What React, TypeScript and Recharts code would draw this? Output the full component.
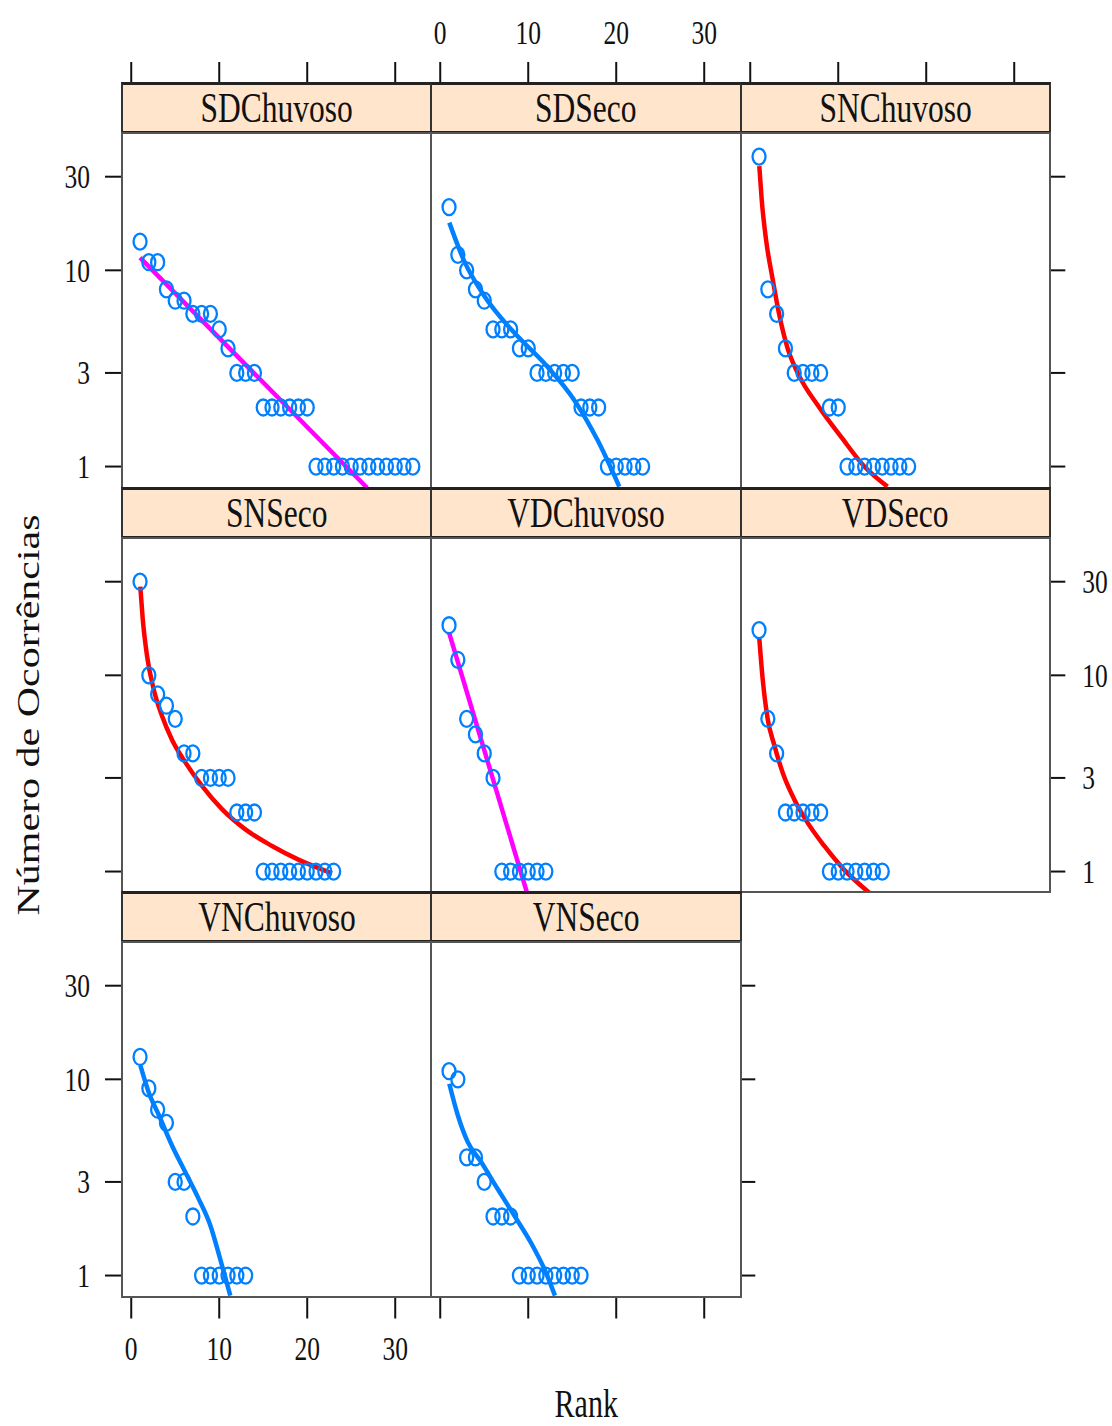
import React from "react";
import { ComposedChart, Line, Scatter, XAxis, YAxis } from "recharts";

// Counts per rank (rank = position + 1), one array per panel.
const sdChuvosoCounts = [14, 11, 11, 8, 7, 7, 6, 6, 6, 5, 4, 3, 3, 3, 2, 2, 2, 2, 2, 2, 1, 1, 1, 1, 1, 1, 1, 1, 1, 1, 1, 1];
const sdSecoCounts = [21, 12, 10, 8, 7, 5, 5, 5, 4, 4, 3, 3, 3, 3, 3, 2, 2, 2, 1, 1, 1, 1, 1];
const snChuvosoCounts = [38, 8, 6, 4, 3, 3, 3, 3, 2, 2, 1, 1, 1, 1, 1, 1, 1, 1];
const snSecoCounts = [30, 10, 8, 7, 6, 4, 4, 3, 3, 3, 3, 2, 2, 2, 1, 1, 1, 1, 1, 1, 1, 1, 1];
const vdChuvosoCounts = [18, 12, 6, 5, 4, 3, 1, 1, 1, 1, 1, 1];
const vdSecoCounts = [17, 6, 4, 2, 2, 2, 2, 2, 1, 1, 1, 1, 1, 1, 1];
const vnChuvosoCounts = [13, 9, 7, 6, 3, 3, 2, 1, 1, 1, 1, 1, 1];
const vnSecoCounts = [11, 10, 4, 4, 3, 2, 2, 2, 1, 1, 1, 1, 1, 1, 1, 1];

// Fitted curves (rank, count).
const sdChuvosoFitRank = [1, 26.8];
const sdChuvosoFitCount = [11.6, 0.78];
const sdSecoFitRank = [1.03, 2.74, 5.01, 8.42, 11.83, 15.24, 17.89, 20.35];
const sdSecoFitCount = [17.5, 11.1, 7.4, 4.8, 3.36, 2.18, 1.36, 0.79];
const snChuvosoFitRank = [1.03, 1.3, 1.79, 2.55, 3.31, 4.25, 5.39, 7.85, 10.31, 12.97, 15.6];
const snChuvosoFitCount = [34, 23, 14.4, 9.0, 5.9, 4.0, 3.0, 2.0, 1.42, 1.0, 0.79];
const snSecoFitRank = [1.03, 1.3, 1.79, 2.55, 3.5, 4.63, 6.15, 8.04, 10.31, 12.97, 16.0, 19.0, 22.8];
const snSecoFitCount = [28.3, 19.5, 12.6, 8.5, 6.2, 4.7, 3.6, 2.73, 2.08, 1.64, 1.35, 1.15, 0.98];
const vdChuvosoFitRank = [1, 9.86];
const vdChuvosoFitCount = [16.5, 0.78];
const vdSecoFitRank = [1.03, 1.41, 1.98, 2.74, 3.68, 5.01, 6.53, 8.42, 10.69, 13.53];
const vdSecoFitCount = [15.4, 9.6, 6.0, 4.4, 3.2, 2.33, 1.77, 1.35, 1.02, 0.78];
const vnChuvosoFitRank = [1.03, 1.98, 3.12, 4.63, 6.15, 7.66, 8.99, 10.12, 11.26];
const vnChuvosoFitCount = [11.8, 8.6, 6.6, 4.6, 3.36, 2.46, 1.8, 1.21, 0.79];
const vnSecoFitRank = [1.03, 1.98, 3.12, 4.63, 6.53, 8.42, 10.31, 11.83, 13.04];
const vnSecoFitCount = [9.5, 6.6, 4.8, 3.8, 2.76, 2.02, 1.47, 1.08, 0.79];

const X_TICKS = [0, 10, 20, 30];
const Y_TICKS = [1, 3, 10, 30];
const X_DOMAIN: [number, number] = [-1.05, 34.1];
const Y_DOMAIN: [number, number] = [0.782, 50.1];

const POINT_COLOR = "#0080ff";
const RED = "#ff0000";
const MAGENTA = "#ff00ff";

// Layout of the lattice grid (page px).
const COL_LEFT = [122, 431.3, 740.7];
const ROW_TOP = [83, 487.5, 892];
const PLOT_W = 309.3;
const STRIP_H = 50;
const PLOT_H = 354.5;
const PAD = 130;
const FONT = '"Liberation Serif", "Times New Roman", serif';
const SQUEEZE = 0.75; // the source text is horizontally condensed

type Side = "none" | "tick" | "label";

type PanelSpec = {
  name: string;
  col: number;
  row: number;
  counts: number[];
  fitRank: number[];
  fitCount: number[];
  fitColor: string;
  left: Side;
  right: Side;
  top: Side;
  bottom: Side;
};

const PANELS: PanelSpec[] = [
  { name: "SDChuvoso", col: 0, row: 0, counts: sdChuvosoCounts, fitRank: sdChuvosoFitRank, fitCount: sdChuvosoFitCount, fitColor: MAGENTA, left: "label", right: "none", top: "tick", bottom: "none" },
  { name: "SDSeco", col: 1, row: 0, counts: sdSecoCounts, fitRank: sdSecoFitRank, fitCount: sdSecoFitCount, fitColor: POINT_COLOR, left: "none", right: "none", top: "label", bottom: "none" },
  { name: "SNChuvoso", col: 2, row: 0, counts: snChuvosoCounts, fitRank: snChuvosoFitRank, fitCount: snChuvosoFitCount, fitColor: RED, left: "none", right: "tick", top: "tick", bottom: "none" },
  { name: "SNSeco", col: 0, row: 1, counts: snSecoCounts, fitRank: snSecoFitRank, fitCount: snSecoFitCount, fitColor: RED, left: "tick", right: "none", top: "none", bottom: "none" },
  { name: "VDChuvoso", col: 1, row: 1, counts: vdChuvosoCounts, fitRank: vdChuvosoFitRank, fitCount: vdChuvosoFitCount, fitColor: MAGENTA, left: "none", right: "none", top: "none", bottom: "none" },
  { name: "VDSeco", col: 2, row: 1, counts: vdSecoCounts, fitRank: vdSecoFitRank, fitCount: vdSecoFitCount, fitColor: RED, left: "none", right: "label", top: "none", bottom: "none" },
  { name: "VNChuvoso", col: 0, row: 2, counts: vnChuvosoCounts, fitRank: vnChuvosoFitRank, fitCount: vnChuvosoFitCount, fitColor: POINT_COLOR, left: "label", right: "none", top: "none", bottom: "label" },
  { name: "VNSeco", col: 1, row: 2, counts: vnSecoCounts, fitRank: vnSecoFitRank, fitCount: vnSecoFitCount, fitColor: POINT_COLOR, left: "none", right: "tick", top: "none", bottom: "tick" },
];

const TICK_LINE = { stroke: "#111", strokeWidth: 2 };

function makeTick(side: Side, anchor: "start" | "middle" | "end", dy: string) {
  if (side !== "label") return () => null;
  return (props: any) => (
    <text
      transform={`translate(${props.x},${props.y}) scale(${SQUEEZE},1)`}
      textAnchor={anchor}
      dy={dy}
      fontSize={34}
      fontFamily={FONT}
      fill="#111"
    >
      {props.payload.value}
    </text>
  );
}

function Ring(props: any) {
  if (props.cx == null || props.cy == null) return null;
  return (
    <ellipse
      cx={props.cx}
      cy={props.cy}
      rx={6.5}
      ry={8}
      fill="none"
      stroke={POINT_COLOR}
      strokeWidth={2.3}
    />
  );
}

function Panel({ spec }: { spec: PanelSpec }) {
  const left = COL_LEFT[spec.col];
  const stripTop = ROW_TOP[spec.row];
  const plotTop = stripTop + STRIP_H;
  const points = spec.counts.map((c, i) => ({ rank: i + 1, count: c }));
  const fit = spec.fitRank.map((r, i) => ({ rank: r, count: spec.fitCount[i] }));
  // Row-1 top ticks run up from the plot edge; the strip box hides the part
  // that crosses it, leaving the stub above the strip like lattice draws.
  const topTickSize = plotTop - 62;

  return (
    <div style={{ position: "absolute", left: left - PAD, top: plotTop - PAD }}>
      <ComposedChart
        width={PLOT_W + 2 * PAD}
        height={PLOT_H + 2 * PAD}
        margin={{ top: 0, right: 0, bottom: 0, left: 0 }}
      >
        <XAxis
          xAxisId="b"
          orientation="bottom"
          type="number"
          dataKey="rank"
          domain={X_DOMAIN}
          allowDataOverflow
          ticks={X_TICKS}
          interval={0}
          height={PAD}
          axisLine={false}
          tickLine={spec.bottom === "none" ? false : TICK_LINE}
          tickSize={22}
          tickMargin={17.5}
          tick={spec.bottom === "none" ? false : makeTick(spec.bottom, "middle", "0.71em")}
        />
        <XAxis
          xAxisId="t"
          orientation="top"
          type="number"
          dataKey="rank"
          domain={X_DOMAIN}
          allowDataOverflow
          ticks={X_TICKS}
          interval={0}
          height={PAD}
          axisLine={false}
          tickLine={spec.top === "none" ? false : TICK_LINE}
          tickSize={topTickSize}
          tickMargin={18}
          tick={spec.top === "none" ? false : makeTick(spec.top, "middle", "0")}
        />
        <YAxis
          yAxisId="l"
          orientation="left"
          type="number"
          scale="log"
          dataKey="count"
          domain={Y_DOMAIN}
          allowDataOverflow
          ticks={Y_TICKS}
          interval={0}
          width={PAD}
          axisLine={false}
          tickLine={spec.left === "none" ? false : TICK_LINE}
          tickSize={17}
          tickMargin={15}
          tick={spec.left === "none" ? false : makeTick(spec.left, "end", "0.34em")}
        />
        <YAxis
          yAxisId="r"
          orientation="right"
          type="number"
          scale="log"
          dataKey="count"
          domain={Y_DOMAIN}
          allowDataOverflow
          ticks={Y_TICKS}
          interval={0}
          width={PAD}
          axisLine={false}
          tickLine={spec.right === "none" ? false : TICK_LINE}
          tickSize={15}
          tickMargin={17}
          tick={spec.right === "none" ? false : makeTick(spec.right, "start", "0.34em")}
        />
        <Scatter
          xAxisId="b"
          yAxisId="l"
          data={points}
          dataKey="count"
          shape={Ring}
          isAnimationActive={false}
        />
        <Line
          xAxisId="t"
          yAxisId="r"
          data={fit}
          dataKey="count"
          type="monotone"
          stroke={spec.fitColor}
          strokeWidth={4.5}
          dot={false}
          activeDot={false}
          isAnimationActive={false}
        />
      </ComposedChart>
    </div>
  );
}

function Strip({ spec }: { spec: PanelSpec }) {
  const left = COL_LEFT[spec.col];
  const top = ROW_TOP[spec.row];
  return (
    <>
      <div
        style={{
          position: "absolute",
          left: left - 1,
          top: top - 1,
          width: PLOT_W + 2,
          height: STRIP_H + 2,
          boxSizing: "border-box",
          background: "#ffe5cc",
          borderTop: "3px solid #222",
          borderBottom: "3px solid #222",
          borderLeft: "2px solid #333",
          borderRight: "2px solid #333",
          display: "flex",
          alignItems: "center",
          justifyContent: "center",
        }}
      >
        <span
          style={{
            display: "inline-block",
            fontFamily: FONT,
            fontSize: 42,
            lineHeight: 1,
            color: "#111",
            transform: `scaleX(${SQUEEZE})`,
          }}
        >
          {spec.name}
        </span>
      </div>
      <div
        style={{
          position: "absolute",
          left: left - 1,
          top: top + STRIP_H - 1,
          width: PLOT_W + 2,
          height: PLOT_H + 2,
          boxSizing: "border-box",
          border: "2px solid #555",
          pointerEvents: "none",
        }}
      />
    </>
  );
}

export default function App() {
  return (
    <div
      style={{
        position: "absolute",
        left: 0,
        top: 0,
        width: 1112,
        height: 1426,
        background: "#fff",
        overflow: "hidden",
      }}
    >
      {PANELS.map((p) => (
        <Panel key={p.name} spec={p} />
      ))}
      {PANELS.map((p) => (
        <Strip key={p.name} spec={p} />
      ))}
      <div
        style={{
          position: "absolute",
          left: 486,
          top: 1384,
          width: 200,
          height: 40,
          display: "flex",
          alignItems: "center",
          justifyContent: "center",
        }}
      >
        <span
          style={{
            display: "inline-block",
            fontFamily: FONT,
            fontSize: 40,
            lineHeight: 1,
            color: "#111",
            transform: `scaleX(${SQUEEZE})`,
          }}
        >
          Rank
        </span>
      </div>
      <div
        style={{
          position: "absolute",
          left: 28 - 260,
          top: 715 - 25,
          width: 520,
          height: 50,
          display: "flex",
          alignItems: "center",
          justifyContent: "center",
          transform: `rotate(-90deg) scaleY(${SQUEEZE})`,
        }}
      >
        <span
          style={{
            fontFamily: FONT,
            fontSize: 42,
            lineHeight: 1,
            color: "#111",
            whiteSpace: "nowrap",
          }}
        >
          Número de Ocorrências
        </span>
      </div>
    </div>
  );
}
